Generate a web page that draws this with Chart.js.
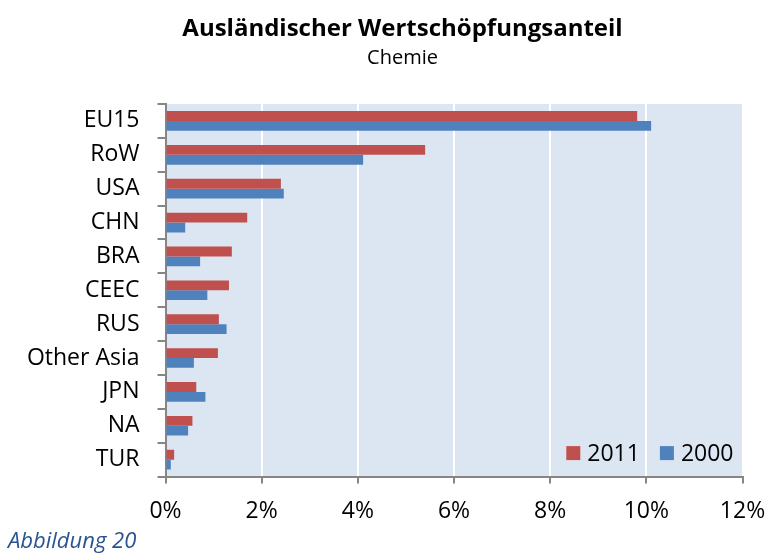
<!DOCTYPE html>
<html>
<head>
<meta charset="utf-8">
<script src="https://cdn.jsdelivr.net/npm/chart.js@4.4.1/dist/chart.umd.min.js"></script>
<style>
  html, body { margin: 0; padding: 0; background: #ffffff; }
  #wrap { position: relative; width: 768px; height: 553px; }
  #caption { position: absolute; left: 8px; top: 524px; font-family: "Open Sans", sans-serif; font-style: italic; font-size: 22px; line-height: 30px; color: #2a5391; white-space: nowrap; }
</style>
</head>
<body>
<div id="wrap">
  <canvas id="c" width="768" height="553"></canvas>
  <div id="caption">Abbildung 20</div>
</div>
<script>
// ---- data ----
const titleText = "Ausländischer Wertschöpfungsanteil";
const subtitleText = "Chemie";
const categories = ["EU15", "RoW", "USA", "CHN", "BRA", "CEEC", "RUS", "Other Asia", "JPN", "NA", "TUR"];
const seriesNames = ["2011", "2000"];
const values2011 = [9.81, 5.40, 2.40, 1.70, 1.38, 1.32, 1.11, 1.09, 0.64, 0.56, 0.18];
const values2000 = [10.10, 4.11, 2.46, 0.41, 0.72, 0.87, 1.27, 0.59, 0.83, 0.47, 0.11];
const xTickLabels = ["0%", "2%", "4%", "6%", "8%", "10%", "12%"];

const FONT = '"Open Sans", sans-serif';
const AXIS_GREY = '#868686';
const PAD_LEFT = 15;

const plotBg = {
  id: 'plotBg',
  beforeDraw(chart) {
    const a = chart.chartArea, ctx = chart.ctx;
    ctx.save();
    ctx.fillStyle = '#dce6f2';
    ctx.fillRect(a.left, a.top, a.right - a.left, a.bottom - a.top);
    ctx.restore();
  }
};

// shift title + subtitle so they are centred where the reference puts them
const titleShift = {
  id: 'titleShift',
  afterLayout(chart) {
    const target = 402.5;
    chart.boxes.forEach(b => {
      if (b.options && (b.options.text === titleText || b.options.text === subtitleText)) {
        const c = (b.left + b.right) / 2;
        const d = target - c;
        b.left += d; b.right += d;
      }
    });
  }
};

const innerLegend = {
  id: 'innerLegend',
  afterDatasetsDraw(chart) {
    const a = chart.chartArea, ctx = chart.ctx;
    ctx.save();
    ctx.font = '23px ' + FONT;
    ctx.textBaseline = 'middle';
    ctx.textAlign = 'left';
    const box = 14, gapBoxText = 7, gapItems = 20;
    const ds = chart.data.datasets;
    const widths = ds.map(d => ctx.measureText(d.label).width);
    let total = 0;
    ds.forEach((d, i) => { total += box + gapBoxText + widths[i]; if (i < ds.length - 1) total += gapItems; });
    let x = a.right - 9 - total;
    const cy = a.bottom - 23.5;
    ds.forEach((d, i) => {
      ctx.fillStyle = d.backgroundColor;
      ctx.fillRect(x, cy - box / 2, box, box);
      x += box + gapBoxText;
      ctx.fillStyle = '#000000';
      ctx.fillText(d.label, x, cy + 1);
      x += widths[i] + gapItems;
    });
    ctx.restore();
  }
};

new Chart(document.getElementById('c'), {
  type: 'bar',
  data: {
    labels: categories,
    datasets: [
      { label: seriesNames[0], data: values2011, backgroundColor: '#c0504d', borderWidth: 0 },
      { label: seriesNames[1], data: values2000, backgroundColor: '#4f81bd', borderWidth: 0 }
    ]
  },
  options: {
    indexAxis: 'y',
    responsive: false,
    animation: false,
    devicePixelRatio: 1,
    categoryPercentage: 0.58,
    barPercentage: 1.0,
    layout: { padding: { left: PAD_LEFT, right: 25.5, top: 0, bottom: 0 } },
    plugins: {
      legend: { display: false },
      tooltip: { enabled: false },
      title: {
        display: true, text: titleText, color: '#000000',
        font: { family: FONT, size: 24, weight: 'bold', lineHeight: 1.0 },
        padding: { top: 17, bottom: 0 }
      },
      subtitle: {
        display: true, text: subtitleText, color: '#000000',
        font: { family: FONT, size: 20, weight: 'normal', lineHeight: 1.2 },
        padding: { top: 5, bottom: 34 }
      }
    },
    scales: {
      x: {
        min: 0, max: 12,
        ticks: {
          stepSize: 2, color: '#000000', padding: 14,
          font: { family: FONT, size: 23 },
          callback: (v, i) => xTickLabels[i]
        },
        grid: { color: '#ffffff', lineWidth: 2, tickColor: AXIS_GREY, tickLength: 7, tickWidth: 2 },
        border: { color: AXIS_GREY, width: 2 },
        afterFit: (s) => { s.height = 553 - 476.6; s.paddingRight = 0; s.paddingLeft = 0; }
      },
      y: {
        offset: true,
        ticks: { color: '#000000', padding: 18, font: { family: FONT, size: 23 } },
        grid: { offset: true, drawOnChartArea: false, color: AXIS_GREY, lineWidth: 2, tickLength: 8 },
        border: { color: AXIS_GREY, width: 2 },
        afterFit: (s) => { s.width = 165.5 - PAD_LEFT; s.paddingTop = 0; s.paddingBottom = 0; }
      }
    }
  },
  plugins: [plotBg, titleShift, innerLegend]
});
</script>
</body>
</html>
